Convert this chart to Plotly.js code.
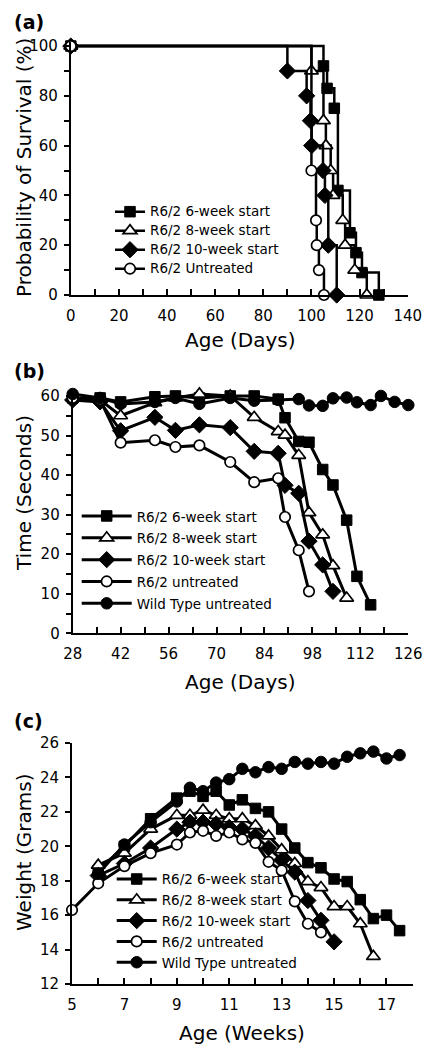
<!DOCTYPE html>
<html>
<head>
<meta charset="utf-8">
<script src="https://cdn.plot.ly/plotly-3.0.1.min.js"></script>
<style>html,body{margin:0;padding:0;background:#fff;}#chart{width:432px;height:1050px;}</style>
</head>
<body>
<div id="chart"></div>
<script>
// ---------- Panel (a): survival (Kaplan-Meier steps) ----------
const survNames = ["R6/2 6-week start", "R6/2 8-week start", "R6/2 10-week start", "R6/2 Untreated"];
const surv6Days = [0, 105, 106.5, 109.5, 111, 116, 118.5, 121, 128];
const surv6Pct  = [100, 92, 83, 75, 42, 25, 17, 9, 0];
const surv8Days = [0, 100, 105, 106, 108, 109, 113, 114, 118, 123];
const surv8Pct  = [100, 90, 70, 60, 50, 40, 30, 20, 10, 0];
const surv10Days = [0, 90, 98, 99.6, 100.1, 104.8, 105.6, 107, 110.5];
const surv10Pct  = [100, 90, 80, 70, 60, 50, 40, 20, 0];
const survUnDays = [0, 100, 101.9, 102.2, 103.1, 105.2];
const survUnPct  = [100, 50, 30, 20, 10, 0];
const survXTicks = [0, 20, 40, 60, 80, 100, 120, 140];
const survYTicks = [0, 20, 40, 60, 80, 100];

// ---------- Panel (b): time on rotarod (seconds) ----------
const rotNames = ["R6/2 6-week start", "R6/2 8-week start", "R6/2 10-week start", "R6/2 untreated", "Wild Type untreated"];
const rot6Days = [28, 36, 42, 52, 58, 65, 74, 81, 88, 90, 94, 97, 101, 104, 108, 111, 115];
const rot6Sec  = [59.5, 59.5, 58.5, 59.8, 60, 59.5, 60, 60, 59.2, 54.5, 48.5, 48.3, 41.4, 37.5, 28.6, 14.4, 7.2];
const rot8Days = [28, 36, 42, 52, 58, 65, 74, 81, 88, 90, 94, 97, 101, 104, 108];
const rot8Sec  = [59.5, 59, 55, 58.3, 59.5, 60.5, 60, 54.6, 51, 50.1, 45, 30.5, 24.9, 17.1, 8.9];
const rot10Days = [28, 36, 42, 52, 58, 65, 74, 81, 88, 90, 94, 97, 101, 104];
const rot10Sec  = [59, 58.5, 51.2, 54.6, 51.3, 52.7, 52, 46, 45.5, 37.4, 35.4, 23.3, 17.3, 10.6];
const rotUnDays = [28, 36, 42, 52, 58, 65, 74, 81, 88, 90, 94, 97];
const rotUnSec  = [59.5, 59, 48.2, 48.8, 47.1, 47.5, 43.3, 38.2, 39.2, 29.4, 21, 10.6];
const rotWtDays = [28, 36, 42, 52, 58, 65, 74, 81, 88, 94, 97, 101, 104, 108, 111, 115, 118, 122, 126];
const rotWtSec  = [60.5, 59.5, 58, 58.5, 59.5, 58, 59.5, 58.8, 59, 59.2, 57.6, 57.5, 59.4, 59.6, 58.4, 57.7, 60, 58.5, 57.7];
const rotXTicks = [28, 42, 56, 70, 84, 98, 112, 126];
const rotYTicks = [0, 10, 20, 30, 40, 50, 60];

// ---------- Panel (c): body weight (grams) ----------
const wtNames = ["R6/2 6-week start", "R6/2 8-week start", "R6/2 10-week start", "R6/2 untreated", "Wild Type untreated"];
const w6Weeks = [6, 7, 8, 9, 9.5, 10, 10.5, 11, 11.5, 12, 12.5, 13, 13.5, 14, 14.5, 15, 15.5, 16, 16.5, 17, 17.5];
const w6Grams = [18.6, 20.0, 21.6, 22.8, 23.2, 22.9, 23.2, 22.4, 22.7, 22.2, 22.0, 21.0, 19.9, 19.05, 18.75, 18.1, 17.95, 16.9, 15.8, 16.0, 15.1];
const w8Weeks = [6, 7, 8, 9, 9.5, 10, 10.5, 11, 11.5, 12, 12.5, 13, 13.5, 14, 14.5, 15, 15.5, 16, 16.5];
const w8Grams = [18.9, 19.6, 21.0, 21.8, 21.8, 22.1, 21.8, 21.6, 21.6, 21.2, 20.6, 19.8, 19.0, 17.95, 17.6, 16.5, 16.5, 15.5, 13.6];
const w10Weeks = [6, 7, 8, 9, 9.5, 10, 10.5, 11, 11.5, 12, 12.5, 13, 13.5, 14, 14.5, 15];
const w10Grams = [18.3, 19.0, 19.9, 21.0, 21.4, 21.4, 21.3, 21.1, 21.0, 20.6, 19.9, 19.2, 18.5, 16.85, 15.7, 14.45];
const wUnWeeks = [5, 6, 7, 8, 9, 9.5, 10, 10.5, 11, 11.5, 12, 12.5, 13, 13.5, 14, 14.5];
const wUnGrams = [16.3, 17.85, 18.85, 19.6, 20.1, 20.8, 20.9, 20.6, 20.8, 20.4, 20.2, 19.1, 18.6, 16.8, 15.5, 15.0];
const wWtWeeks = [6, 7, 8, 9, 9.5, 10, 10.5, 11, 11.5, 12, 12.5, 13, 13.5, 14, 14.5, 15, 15.5, 16, 16.5, 17, 17.5];
const wWtGrams = [18.4, 20.1, 21.4, 22.6, 23.4, 23.2, 23.7, 23.9, 24.5, 24.3, 24.6, 24.5, 24.9, 24.8, 24.9, 24.8, 25.2, 25.4, 25.5, 25.1, 25.3];
const wXTicks = [5, 7, 9, 11, 13, 15, 17];
const wYTicks = [12, 14, 16, 18, 20, 22, 24, 26];

// ---------- styling ----------
const W = 432, H = 1050;
const fx = p => p / W;
const fy = p => 1 - p / H;
const FONT = "DejaVu Sans, Verdana, sans-serif";
const BLACK = "#000";

const sym = {
  s6:  {symbol: "square", size: 10.5, color: BLACK, line: {color: BLACK, width: 1}},
  s8:  {symbol: "triangle-up", size: 12, color: "#fff", line: {color: BLACK, width: 1.7}},
  s10: {symbol: "diamond", size: 12.5, color: BLACK, line: {color: BLACK, width: 1}},
  sUn: {symbol: "circle", size: 10.5, color: "#fff", line: {color: BLACK, width: 1.7}},
  sWt: {symbol: "circle", size: 11.5, color: BLACK, line: {color: BLACK, width: 1}}
};
const legName = (n) => '<span style="font-size:13.5px">' + n + '</span>';

function tr(x, y, name, marker, xa, ya, leg, opts) {
  return Object.assign({
    type: "scatter", mode: "lines+markers", x: x, y: y, name: legName(name),
    xaxis: xa, yaxis: ya, legend: leg, cliponaxis: false,
    line: {color: BLACK, width: 3},
    marker: marker
  }, opts || {});
}
const stepOpt = {line: {color: BLACK, width: 2.5, shape: "hv"}};

const data = [
  tr(surv6Days, surv6Pct, survNames[0], sym.s6, "x", "y", "legend", stepOpt),
  tr(surv8Days, surv8Pct, survNames[1], sym.s8, "x", "y", "legend", stepOpt),
  tr(surv10Days, surv10Pct, survNames[2], sym.s10, "x", "y", "legend", stepOpt),
  tr(survUnDays, survUnPct, survNames[3], sym.sUn, "x", "y", "legend", stepOpt),

  tr(rot6Days, rot6Sec, rotNames[0], sym.s6, "x2", "y2", "legend2"),
  tr(rot8Days, rot8Sec, rotNames[1], sym.s8, "x2", "y2", "legend2"),
  tr(rot10Days, rot10Sec, rotNames[2], sym.s10, "x2", "y2", "legend2"),
  tr(rotUnDays, rotUnSec, rotNames[3], sym.sUn, "x2", "y2", "legend2"),
  tr(rotWtDays, rotWtSec, rotNames[4], sym.sWt, "x2", "y2", "legend2"),

  tr(w6Weeks, w6Grams, wtNames[0], sym.s6, "x3", "y3", "legend3"),
  tr(w8Weeks, w8Grams, wtNames[1], sym.s8, "x3", "y3", "legend3"),
  tr(w10Weeks, w10Grams, wtNames[2], sym.s10, "x3", "y3", "legend3"),
  tr(wUnWeeks, wUnGrams, wtNames[3], sym.sUn, "x3", "y3", "legend3"),
  tr(wWtWeeks, wWtGrams, wtNames[4], sym.sWt, "x3", "y3", "legend3")
];

const tickFont = {family: FONT, size: 15, color: BLACK};
function xAxis(dom, range, ticks, minorStep, anchor) {
  return {
    domain: dom, range: range, anchor: anchor, tickmode: "array", tickvals: ticks,
    ticks: "inside", ticklen: 6, tickwidth: 2, tickcolor: BLACK,
    minor: {dtick: minorStep, tick0: range[0], ticks: "inside", ticklen: 6, tickwidth: 2, tickcolor: BLACK, showgrid: false},
    showline: true, linewidth: 2, linecolor: BLACK, showgrid: false, zeroline: false,
    tickfont: tickFont, ticklabelstandoff: 6, fixedrange: true
  };
}
function yAxis(dom, range, ticks, minorStep, anchor) {
  const a = {
    domain: dom, range: range, anchor: anchor, tickmode: "array", tickvals: ticks,
    ticks: "outside", ticklen: 5, tickwidth: 2, tickcolor: BLACK,
    showline: true, linewidth: 2, linecolor: BLACK, showgrid: false, zeroline: false,
    tickfont: tickFont, ticklabelstandoff: 3, fixedrange: true
  };
  if (minorStep) a.minor = {dtick: minorStep, tick0: range[0], ticks: "outside", ticklen: 5, tickwidth: 2, tickcolor: BLACK, showgrid: false};
  return a;
}

const titleFont = {family: FONT, size: 20, color: BLACK};
function ann(text, x, y, angle, extra) {
  return Object.assign({text: text, xref: "paper", yref: "paper", x: fx(x), y: fy(y),
    showarrow: false, xanchor: "center", yanchor: "middle", textangle: angle || 0, font: titleFont}, extra || {});
}
const panelFont = {family: FONT, size: 19, color: BLACK};

function legend(left, top, itemw, fsize) {
  return {x: fx(left), y: fy(top), xanchor: "left", yanchor: "top", bgcolor: "rgba(0,0,0,0)",
    borderwidth: 0, itemwidth: itemw, font: {family: FONT, size: fsize, color: BLACK}, itemclick: false};
}

const layout = {
  width: W, height: H, margin: {l: 0, r: 0, t: 0, b: 0},
  paper_bgcolor: "#fff", plot_bgcolor: "#fff", showlegend: true,
  xaxis:  xAxis([fx(70.8), fx(407.7)], [0, 140], survXTicks, 10, "y"),
  yaxis:  yAxis([fy(295), fy(42.3)], [0, 101.5], survYTicks, 10, "x"),
  xaxis2: xAxis([fx(72.7), fx(408.3)], [28, 126], rotXTicks, 7, "y2"),
  yaxis2: yAxis([fy(633.3), fy(392)], [0, 61], rotYTicks, 5, "x2"),
  xaxis3: xAxis([fx(72), fx(412.7)], [5, 18], wXTicks, 1, "y3"),
  yaxis3: yAxis([fy(984), fy(743)], [12, 26], wYTicks, null, "x3"),
  legend:  legend(110, 197.2, 30, 11.8),
  legend2: legend(76.7, 500, 50, 14.5),
  legend3: legend(111.7, 863.6, 40, 13.7),
  annotations: [
    ann("<b>(a)</b>", 12, 22, 0, {xanchor: "left", font: panelFont}),
    ann("<b>(b)</b>", 12, 371, 0, {xanchor: "left", font: panelFont}),
    ann("<b>(c)</b>", 12, 721, 0, {xanchor: "left", font: panelFont}),
    ann("Age (Days)", 240, 340),
    ann("Age (Days)", 240, 682),
    ann("Age (Weeks)", 242, 1033),
    ann("Probability of Survival (%)", 24, 168, -90),
    ann("Time (Seconds)", 24, 493, -90),
    ann("Weight (Grams)", 24, 852, -90)
  ]
};

Plotly.newPlot("chart", data, layout, {staticPlot: true, displayModeBar: false});
</script>
</body>
</html>
